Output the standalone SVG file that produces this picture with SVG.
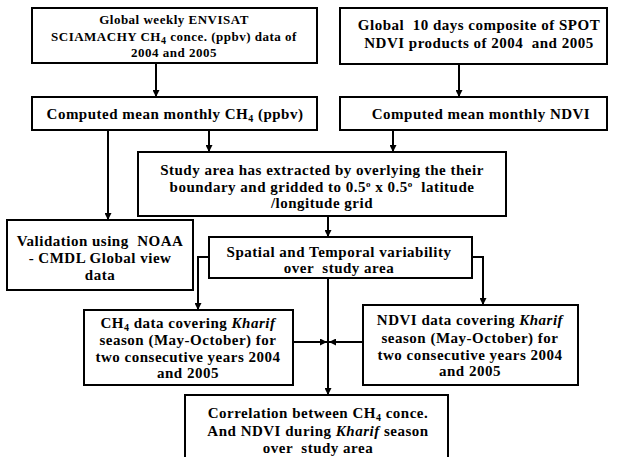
<svg xmlns="http://www.w3.org/2000/svg" width="622" height="457" viewBox="0 0 622 457">
<defs>
<marker id="ah" viewBox="0 0 10 10" refX="10" refY="5" markerWidth="7" markerHeight="7" markerUnits="userSpaceOnUse" orient="auto">
<path d="M0,0 L10,5 L0,10 z" fill="#000"/>
</marker>
<style>
rect.b{fill:#fff;stroke:#000;stroke-width:2}
text{font-family:"Liberation Serif","Times New Roman",serif;font-weight:bold;font-size:15px;letter-spacing:0.5px;text-anchor:middle;fill:#000;white-space:pre}
text.s{font-size:13px}
.sub{font-size:10px}
.i{font-style:italic}
#connectors path,#connectors line{fill:none;stroke:#000;stroke-width:2}
</style>
</defs>
<rect width="622" height="457" fill="#fff"/>
<g id="connectors">
<line x1="156" y1="63" x2="156" y2="97" marker-end="url(#ah)"/>
<line x1="459" y1="64" x2="459" y2="97" marker-end="url(#ah)"/>
<line x1="108" y1="130" x2="108" y2="220" marker-end="url(#ah)"/>
<line x1="209" y1="130" x2="209" y2="152" marker-end="url(#ah)"/>
<line x1="393" y1="130" x2="393" y2="152" marker-end="url(#ah)"/>
<line x1="328" y1="216" x2="328" y2="237" marker-end="url(#ah)"/>
<path d="M209,257 H198 V310" marker-end="url(#ah)"/>
<path d="M472,257 H483 V305" marker-end="url(#ah)"/>
<line x1="328" y1="278" x2="328" y2="395" marker-end="url(#ah)"/>
<line x1="293" y1="342" x2="327" y2="342" marker-end="url(#ah)"/>
<line x1="363" y1="342" x2="329" y2="342" marker-end="url(#ah)"/>
</g>
<g id="envisat">
<rect class="b" x="32" y="8" width="285" height="55"/>
<text class="s" x="174" y="24">Global weekly ENVISAT</text>
<text class="s" x="174" y="41">SCIAMACHY CH<tspan class="sub" dy="3">4</tspan><tspan dy="-3"> conce. (ppbv) data of</tspan></text>
<text class="s" x="174" y="57">2004 and 2005</text>
</g>
<g id="spot">
<rect class="b" x="340" y="8" width="267" height="56"/>
<text x="479" y="30">Global  10 days composite of SPOT</text>
<text x="479" y="48">NDVI products of 2004  and 2005</text>
</g>
<g id="ch4monthly">
<rect class="b" x="32" y="97" width="285" height="33"/>
<text x="175" y="119">Computed mean monthly CH<tspan class="sub" dy="3">4</tspan><tspan dy="-3"> (ppbv)</tspan></text>
</g>
<g id="ndvimonthly">
<rect class="b" x="340" y="97" width="267" height="33"/>
<text x="481" y="119">Computed mean monthly NDVI</text>
</g>
<g id="studyarea">
<rect class="b" x="138" y="152" width="368" height="64"/>
<text x="322" y="175">Study area has extracted by overlying the their</text>
<text x="322" y="192">boundary and gridded to 0.5<tspan font-size="9" dy="-5">o</tspan><tspan dy="5"> x 0.5</tspan><tspan font-size="9" dy="-5">o</tspan><tspan dy="5">  latitude</tspan></text>
<text x="322" y="208">/longitude grid</text>
</g>
<g id="validation">
<rect class="b" x="7" y="220" width="186" height="70"/>
<text x="100" y="246">Validation using  NOAA</text>
<text x="100" y="263">- CMDL Global view</text>
<text x="100" y="280">data</text>
</g>
<g id="spatial">
<rect class="b" x="209" y="237" width="263" height="41"/>
<text x="339" y="257">Spatial and Temporal variability</text>
<text x="339" y="273">over  study area</text>
</g>
<g id="ch4kharif">
<rect class="b" x="84" y="310" width="209" height="75"/>
<text x="188" y="328">CH<tspan class="sub" dy="3">4</tspan><tspan dy="-3"> data covering </tspan><tspan class="i">Kharif</tspan></text>
<text x="188" y="345">season (May-October) for</text>
<text x="188" y="362">two consecutive years 2004</text>
<text x="188" y="378">and 2005</text>
</g>
<g id="ndvikharif">
<rect class="b" x="363" y="305" width="215" height="80"/>
<text x="470" y="325">NDVI data covering <tspan class="i">Kharif</tspan></text>
<text x="470" y="343">season (May-October) for</text>
<text x="470" y="360">two consecutive years 2004</text>
<text x="470" y="376">and 2005</text>
</g>
<g id="correlation">
<rect class="b" x="185" y="395" width="263" height="70"/>
<text x="318" y="418">Correlation between CH<tspan class="sub" dy="3">4</tspan><tspan dy="-3"> conce.</tspan></text>
<text x="318" y="436">And NDVI during <tspan class="i">Kharif</tspan> season</text>
<text x="318" y="453">over  study area</text>
</g>
</svg>
